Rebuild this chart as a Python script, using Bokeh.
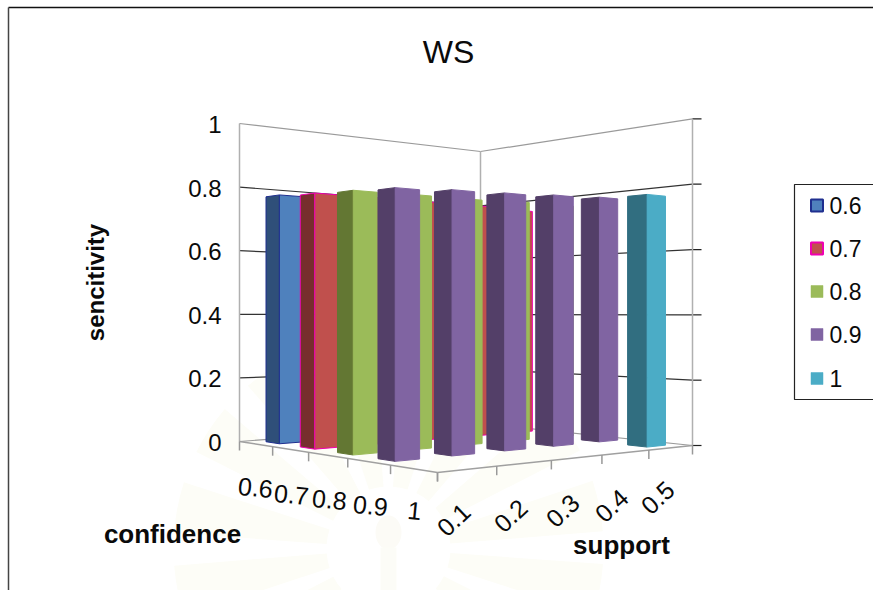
from bokeh.core.properties import value
from bokeh.embed import file_html
from bokeh.models import ColumnDataSource, Range1d
from bokeh.plotting import figure
from bokeh.resources import INLINE

# ----- chart data -----
title = "WS"
y_label = "sencitivity"
x_label = "confidence"
z_label = "support"
confidence = ["0.6", "0.7", "0.8", "0.9", "1"]
support = ["0.1", "0.2", "0.3", "0.4", "0.5"]
y_ticks = [0, 0.2, 0.4, 0.6, 0.8, 1]
y_tick_labels = ["0", "0.2", "0.4", "0.6", "0.8", "1"]
sens_06 = [0.769, 0.765, 0.765, 0.76, 0.76]
sens_07 = [0.76, 0.76, 0.76, 0.76, 0.755]
sens_08 = [0.753, 0.755, 0.755, 0.76, 0.76]
sens_09 = [0.745, 0.753, 0.757, 0.764, 0.77]
sens_10 = [None, None, None, None, 0.764]

light = ["#4F81BD", "#C0504D", "#9BBB59", "#8064A2", "#4BACC6"]
dark = ["#2F4F79", "#772E2E", "#637733", "#533F68", "#316E80"]
edge = ["#1F2F8F", "#F000B0", None, None, None]

# ----- perspective box: floor corners and vertical scale -----
L, F, R, B = (239, 441), (437, 472), (692, 445), (480, 423)
V_SCALE = 318

dx1, dx2, sx = F[0] - R[0], B[0] - R[0], L[0] - F[0] + R[0] - B[0]
dy1, dy2, sy = F[1] - R[1], B[1] - R[1], L[1] - F[1] + R[1] - B[1]
det = dx1 * dy2 - dx2 * dy1
g = (sx * dy2 - dx2 * sy) / det
h = (dx1 * sy - sx * dy1) / det
a, b = F[0] - L[0] + g * F[0], B[0] - L[0] + h * B[0]
d, e = F[1] - L[1] + g * F[1], B[1] - L[1] + h * B[1]


def project(c, s, height=0.0):
    w = 1 + g * c + h * s
    return (
        (a * c + b * s + L[0]) / w,
        (d * c + e * s + L[1]) / w - height * V_SCALE / w,
    )


p = figure(width=873, height=590, output_backend="svg", toolbar_location=None,
           x_range=Range1d(0, 873), y_range=Range1d(590, 0),
           x_axis_type=None, y_axis_type=None, min_border=0,
           outline_line_color=None, background_fill_color="white",
           border_fill_color="white")
p.grid.visible = False


def seg(p0, p1, color, width=1.0):
    p.line([p0[0], p1[0]], [p0[1], p1[1]], line_color=color, line_width=width)


def label(x, y, text, size, bold=False, angle=0.0, align="center"):
    p.text([x], [y], text=[text], text_font=value("Liberation Sans"),
           text_font_size=f"{size}px", text_font_style="bold" if bold else "normal",
           text_align=align, text_baseline="middle", angle=angle,
           text_color="#0a0a0a")


# pale crest watermark behind the page
ray_starts = [i * 0.3927 + 0.08 for i in range(16)]
p.annular_wedge(x=[388] * 16, y=[548] * 16, inner_radius=62, outer_radius=215,
                start_angle=ray_starts, end_angle=[r + 0.24 for r in ray_starts],
                fill_color="#FDFDF7", line_color=None)
p.ellipse([388], [532], width=26, height=34, fill_color="#FCFBF6", line_color=None)
p.rect([388], [570], width=16, height=46, fill_color="#FCFCF7", line_color=None)

# page frame
seg((8, 7), (873, 7), "#111111", 1.5)
seg((8, 7), (8, 590), "#444444", 1.5)

# back walls and their gridlines
for tick, tick_text in zip(y_ticks, y_tick_labels):
    color = "#9a9a9a" if tick in (0, 1) else "#333333"
    seg(project(0, 0, tick), project(0, 1, tick), color, 1.2)
    seg(project(0, 1, tick), project(1, 1, tick), color, 1.2)
    rx, ry = project(1, 1, tick)
    seg((rx, ry), (rx + 9, ry), "#222222", 1.2)
    lx, ly = project(0, 0, tick)
    label(lx - 18, ly + 1, tick_text, 24, align="right")
for corner in [(0, 0), (0, 1), (1, 1)]:
    seg(project(*corner, 0), project(*corner, 1), "#b0b0b0", 1.5)

# floor edges with tick marks
seg(project(0, 0), project(1, 0), "#a0a0a0", 1.5)
seg(project(1, 0), project(1, 1), "#a0a0a0", 1.5)
for i in range(6):
    tx, ty = project(i / 5, 0)
    seg((tx, ty), (tx, ty + 9), "#999999", 1.5)
    tx, ty = project(1, i / 5)
    seg((tx, ty), (tx, ty + 9), "#999999", 1.5)

# bars, painted from the far corner towards the viewer
series = [sens_06, sens_07, sens_08, sens_09, sens_10]
BAR_C, BAR_S = 0.40, 0.42
OFFSET_S = 0.002
for ci, row in enumerate(series):
    c0 = (ci + 0.5 - BAR_C / 2) / 5
    c1 = (ci + 0.5 + BAR_C / 2) / 5
    for si in range(4, -1, -1):
        val = row[si]
        if val is None:
            continue
        s0 = (si + 0.5 - BAR_S / 2) / 5 + OFFSET_S
        s1 = (si + 0.5 + BAR_S / 2) / 5 + OFFSET_S
        left_face = [project(c0, s0), project(c1, s0), project(c1, s0, val), project(c0, s0, val)]
        right_face = [project(c1, s0), project(c1, s1), project(c1, s1, val), project(c1, s0, val)]
        for face, fill in ((left_face, dark[ci]), (right_face, light[ci])):
            source = ColumnDataSource(dict(x=[q[0] for q in face], y=[q[1] for q in face]))
            p.patch("x", "y", source=source, fill_color=fill,
                    line_color=edge[ci] or fill, line_width=1.0)

# tilted category labels
conf_pos = [(255, 487), (291, 494), (329, 499), (370, 505), (414, 510)]
supp_pos = [(453, 519), (510, 515), (562, 510), (611, 505), (657, 497)]
for (x, y), text in zip(conf_pos, confidence):
    label(x, y, text, 25, angle=-0.1)
for (x, y), text in zip(supp_pos, support):
    label(x, y, text, 25, angle=0.75)

# titles
label(448, 51, title, 32)
label(95, 282, y_label, 24, bold=True, angle=1.5708)
label(172, 533, x_label, 26, bold=True)
label(621, 544, z_label, 26, bold=True)

# legend box
p.line([873, 794, 794, 873], [184, 184, 399, 399], line_color="#222222", line_width=1.2)
legend_y = [205, 248, 291, 334, 378]
legend_text = confidence
for i, (y, text) in enumerate(zip(legend_y, legend_text)):
    p.rect([816.5], [y], width=12, height=12, fill_color=light[i],
           line_color=edge[i] or light[i], line_width=2 if edge[i] else 0.5)
    label(829, y, text, 23, align="left")

open("out.html", "w").write(file_html(p, INLINE))
